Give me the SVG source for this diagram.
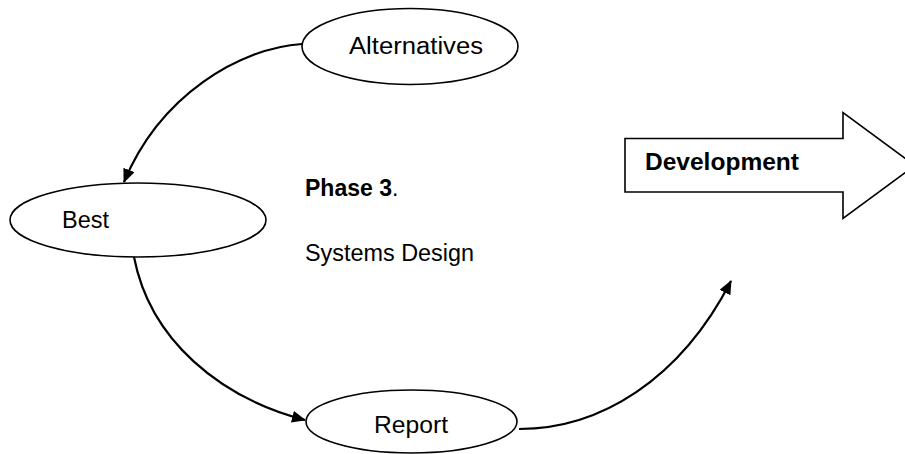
<svg xmlns="http://www.w3.org/2000/svg" width="905" height="454" viewBox="0 0 905 454">
<style>
.node{fill:#fff;stroke:#000;stroke-width:1.6}
.t{font-family:"Liberation Sans",Arial,sans-serif;font-size:23px;fill:#000}
.b{font-weight:bold}
.c{fill:none;stroke:#000;stroke-width:2.2}
</style>
<defs>
<marker id="ah" markerWidth="14" markerHeight="12" refX="13" refY="6" orient="auto" markerUnits="userSpaceOnUse">
<path d="M0,0 L14,6 L0,12 Z" fill="#000"/>
</marker>
</defs>
<rect width="905" height="454" fill="#fff"/>
<g id="connectors">
<path class="c" d="M302,44 C240,48 160,95 124,182" marker-end="url(#ah)"/>
<path class="c" d="M134,257 C150,340 220,398 305,420" marker-end="url(#ah)"/>
<path class="c" d="M519,429 C600,429 680,380 731,281" marker-end="url(#ah)"/>
</g>
<g id="alternatives">
<ellipse class="node" cx="410" cy="46.5" rx="108" ry="38"/>
<text class="t" x="349" y="54" textLength="134" lengthAdjust="spacingAndGlyphs">Alternatives</text>
</g>
<g id="best">
<ellipse class="node" cx="138" cy="220" rx="128" ry="37"/>
<text class="t" x="62" y="228" textLength="47" lengthAdjust="spacingAndGlyphs">Best</text>
</g>
<g id="report">
<ellipse class="node" cx="411.5" cy="421.5" rx="105.5" ry="31.5"/>
<text class="t" x="374" y="433" textLength="74" lengthAdjust="spacingAndGlyphs">Report</text>
</g>
<g id="development">
<polygon class="node" points="625,138.5 843,138.5 843,112.5 915,165.5 843,218.5 843,192 625,192"/>
<text class="t b" x="645" y="170" textLength="154" lengthAdjust="spacingAndGlyphs">Development</text>
</g>
<g id="phase">
<text class="t" x="305" y="196"><tspan class="b" textLength="87" lengthAdjust="spacingAndGlyphs">Phase 3</tspan>.</text>
<text class="t" x="305" y="261" textLength="169" lengthAdjust="spacingAndGlyphs">Systems Design</text>
</g>
</svg>
